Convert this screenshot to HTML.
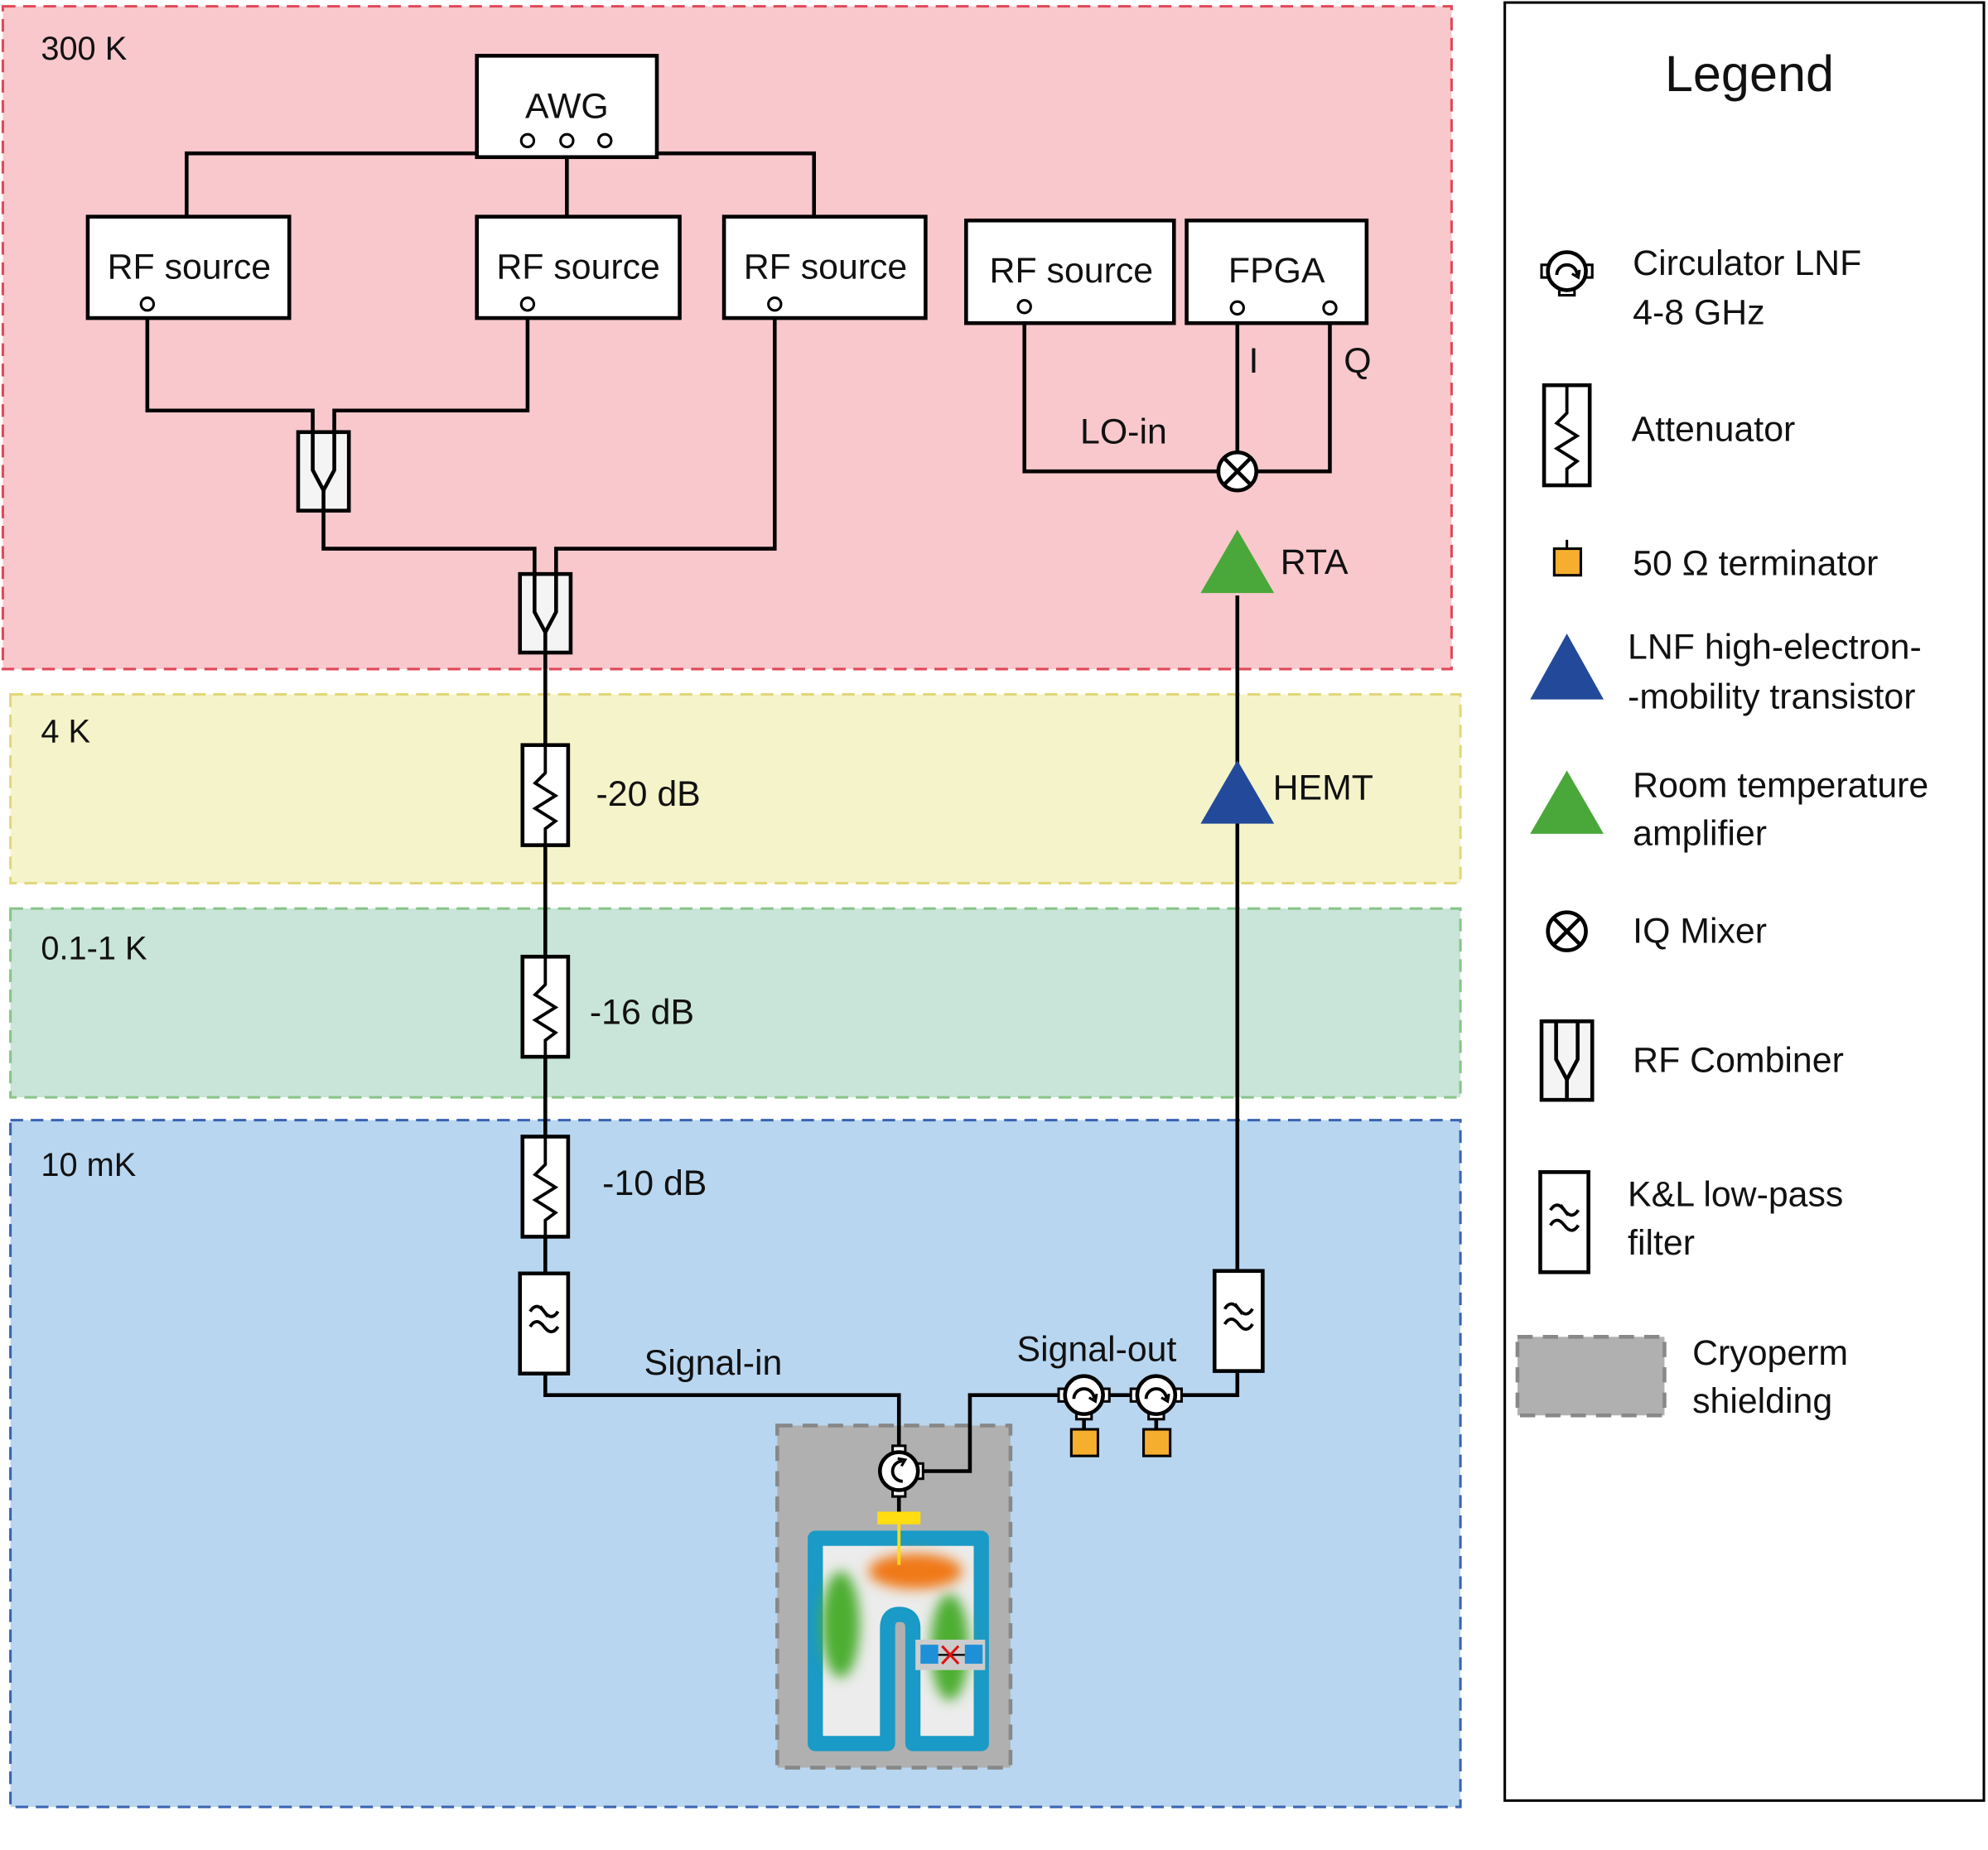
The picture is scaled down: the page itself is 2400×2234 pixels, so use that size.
<!DOCTYPE html>
<html><head><meta charset="utf-8"><style>
html,body{margin:0;padding:0;background:#fff}
svg{display:block}
text{font-family:"Liberation Sans",sans-serif;fill:#111}
</style></head><body>
<svg width="2400" height="2234" viewBox="0 0 1568 1460" xmlns="http://www.w3.org/2000/svg">
<defs>
<filter id="bl" x="-50%" y="-50%" width="200%" height="200%"><feGaussianBlur stdDeviation="5"/></filter>
<g id="att"><rect x="-18" y="0" width="36" height="79" fill="#fff" stroke="#000" stroke-width="3"/><path d="M0 0 V22 L-8 30 L8 40 L-8 50 L8 60 L0 66 V79" fill="none" stroke="#000" stroke-width="2.5"/></g>
<g id="comb"><rect x="-20" y="0" width="40" height="62" fill="#f4f4f4" stroke="#000" stroke-width="3"/><path d="M-8.5 0 V30 L0 46 L8.5 30 V0 M0 46 V62" fill="none" stroke="#000" stroke-width="3"/></g>
<g id="filt"><rect x="-19" y="0" width="38" height="79" fill="#fff" stroke="#000" stroke-width="3"/><path d="M-11 30 q5 -8 11 0 t11 0 M-11 42 q5 -8 11 0 t11 0 M-3 26 l6 8" fill="none" stroke="#000" stroke-width="2.5"/></g>
<g id="circ"><rect x="-20" y="-5" width="6" height="10" fill="#fff" stroke="#000" stroke-width="2"/><rect x="14" y="-5" width="6" height="10" fill="#fff" stroke="#000" stroke-width="2"/><rect x="-6" y="13" width="12" height="6" fill="#fff" stroke="#000" stroke-width="2"/><circle r="15" fill="#fff" stroke="#000" stroke-width="3"/><path d="M-8 3 A8 8 0 1 1 8 3" fill="none" stroke="#000" stroke-width="2.5"/><path d="M4 2 L9 5 L10 -1" fill="none" stroke="#000" stroke-width="2"/></g>
<g id="mix"><circle r="15" fill="#fff" stroke="#000" stroke-width="3"/><path d="M-10 -10 L10 10 M10 -10 L-10 10" stroke="#000" stroke-width="3"/></g>
</defs>
<!-- zones -->
<rect x="2" y="5" width="1143" height="523" fill="#f8c8cc" stroke="#e04858" stroke-width="2" stroke-dasharray="10 6"/>
<rect x="8" y="548" width="1144" height="149" fill="#f5f3c9" stroke="#e0d878" stroke-width="2" stroke-dasharray="10 6"/>
<rect x="8" y="717" width="1144" height="149" fill="#c9e4d8" stroke="#88c488" stroke-width="2" stroke-dasharray="10 6"/>
<rect x="8" y="884" width="1144" height="542" fill="#b8d6f0" stroke="#3a62b0" stroke-width="2" stroke-dasharray="10 6"/>
<text x="32" y="47" font-size="26">300 K</text>
<text x="32" y="586" font-size="26">4 K</text>
<text x="32" y="757" font-size="26">0.1-1 K</text>
<text x="32" y="928" font-size="26">10 mK</text>
<!-- cryoperm -->
<rect x="613" y="1125" width="184" height="270" fill="#b0b0b0" stroke="#888" stroke-width="3" stroke-dasharray="12 8"/>
<!-- wires -->
<g fill="none" stroke="#000" stroke-width="3">
<path d="M147 171 V121 H642 V171 M447 121 V171"/>
<path d="M116 240 V324 H246.5 V341 M416 240 V324 H263.5 V341"/>
<path d="M255 403 V433 H421.5 V453 M611 240 V433 H438.5 V453"/>
<path d="M430 515 V1005 M430 1084 V1101 H709 V1146 M723 1161 H765 V1101 H976 V1082"/>
<path d="M976 1003 V470 M808 242 V372 H1049 V243 M976 243 V372"/>
<path d="M855 1116 V1128 M912 1116 V1128 M709 1176 V1195"/>
</g>
<!-- boxes -->
<g fill="#fff" stroke="#000" stroke-width="3">
<rect x="376" y="44" width="142" height="80"/>
<rect x="69" y="171" width="159" height="80"/>
<rect x="376" y="171" width="160" height="80"/>
<rect x="571" y="171" width="159" height="80"/>
<rect x="762" y="174" width="164" height="81"/>
<rect x="936" y="174" width="142" height="81"/>
</g>
<g fill="#fff" stroke="#000" stroke-width="2">
<circle cx="416" cy="111" r="5"/><circle cx="447" cy="111" r="5"/><circle cx="477" cy="111" r="5"/>
<circle cx="116" cy="240" r="5"/><circle cx="416" cy="240" r="5"/><circle cx="611" cy="240" r="5"/>
<circle cx="808" cy="242" r="5"/><circle cx="976" cy="243" r="5"/><circle cx="1049" cy="243" r="5"/>
</g>
<g font-size="28">
<text x="447" y="93" text-anchor="middle">AWG</text>
<text x="149" y="220" text-anchor="middle">RF source</text>
<text x="456" y="220" text-anchor="middle">RF source</text>
<text x="651" y="220" text-anchor="middle">RF source</text>
<text x="845" y="223" text-anchor="middle">RF source</text>
<text x="1007" y="223" text-anchor="middle">FPGA</text>
<text x="985" y="294">I</text>
<text x="1060" y="294">Q</text>
<text x="852" y="350">LO-in</text>
<text x="1010" y="453">RTA</text>
<text x="1004" y="631">HEMT</text>
<text x="470" y="636">-20 dB</text>
<text x="465" y="808">-16 dB</text>
<text x="475" y="943">-10 dB</text>
<text x="508" y="1085">Signal-in</text>
<text x="802" y="1074">Signal-out</text>
</g>
<use href="#comb" x="255" y="341"/>
<use href="#comb" x="430" y="453"/>
<use href="#att" x="430" y="588"/>
<use href="#att" x="430" y="755"/>
<use href="#att" x="430" y="897"/>
<use href="#filt" x="429" y="1005"/>
<use href="#filt" x="977" y="1003"/>
<use href="#mix" x="976" y="372"/>
<polygon points="976,418 1005,468 947,468" fill="#4aa83a"/>
<polygon points="976,600 1005,650 947,650" fill="#234a9a"/>
<use href="#circ" x="855" y="1101"/>
<use href="#circ" x="912" y="1101"/>
<rect x="845" y="1128" width="21" height="21" fill="#f5ae2e" stroke="#000" stroke-width="2"/>
<rect x="902" y="1128" width="21" height="21" fill="#f5ae2e" stroke="#000" stroke-width="2"/>
<use href="#circ" transform="translate(709 1161) rotate(-90)"/>
<rect x="692" y="1193" width="34" height="10" fill="#ffdd10"/>
<path d="M700 1376 V1285 Q700 1274 709 1274 Q720 1274 720 1285 V1376 H774 V1214 H643 V1376 Z" fill="#ececec" stroke="#1a9ac6" stroke-width="12" stroke-linejoin="round"/>
<ellipse cx="663" cy="1282" rx="15" ry="42" fill="#4eae30" filter="url(#bl)"/>
<ellipse cx="749" cy="1300" rx="15" ry="42" fill="#4eae30" filter="url(#bl)"/>
<ellipse cx="722" cy="1240" rx="37" ry="14" fill="#f07818" filter="url(#bl)"/>
<line x1="709" y1="1203" x2="709" y2="1235" stroke="#ffdd10" stroke-width="2.5"/>
<rect x="722" y="1294" width="55" height="24" fill="#ccc"/>
<rect x="726" y="1298" width="14" height="15" fill="#1e90d8"/><rect x="761" y="1298" width="14" height="15" fill="#1e90d8"/>
<line x1="740" y1="1306" x2="761" y2="1306" stroke="#000" stroke-width="1.5"/>
<path d="M743 1299 L756 1313 M756 1299 L743 1313" stroke="#e01010" stroke-width="2"/>
<!-- legend -->
<rect x="1187" y="2" width="378" height="1419" fill="#fff" stroke="#000" stroke-width="2"/>
<text x="1380" y="72" font-size="40" text-anchor="middle">Legend</text>
<g font-size="28">
<text x="1288" y="217">Circulator LNF</text><text x="1288" y="256">4-8 GHz</text>
<text x="1287" y="348">Attenuator</text>
<text x="1288" y="454">50 Ω terminator</text>
<text x="1284" y="520">LNF high-electron-</text><text x="1284" y="559">-mobility transistor</text>
<text x="1288" y="629">Room temperature</text><text x="1288" y="667">amplifier</text>
<text x="1288" y="744">IQ Mixer</text>
<text x="1288" y="846">RF Combiner</text>
<text x="1284" y="952">K&amp;L low-pass</text><text x="1284" y="990">filter</text>
<text x="1335" y="1077">Cryoperm</text><text x="1335" y="1115">shielding</text>
</g>
<use href="#circ" x="1236" y="214"/>
<use href="#att" x="1236" y="304"/>
<line x1="1236" y1="426" x2="1236" y2="433" stroke="#000" stroke-width="2"/>
<rect x="1226" y="433" width="21" height="21" fill="#f5ae2e" stroke="#000" stroke-width="2"/>
<polygon points="1236,500 1265,552 1207,552" fill="#234a9a"/>
<polygon points="1236,608 1265,658 1207,658" fill="#4aa83a"/>
<use href="#mix" x="1236" y="735"/>
<use href="#comb" x="1236" y="806"/>
<use href="#filt" x="1234" y="925"/>
<rect x="1197" y="1055" width="116" height="62" fill="#b0b0b0" stroke="#888" stroke-width="3" stroke-dasharray="12 8"/>
</svg>
</body></html>
